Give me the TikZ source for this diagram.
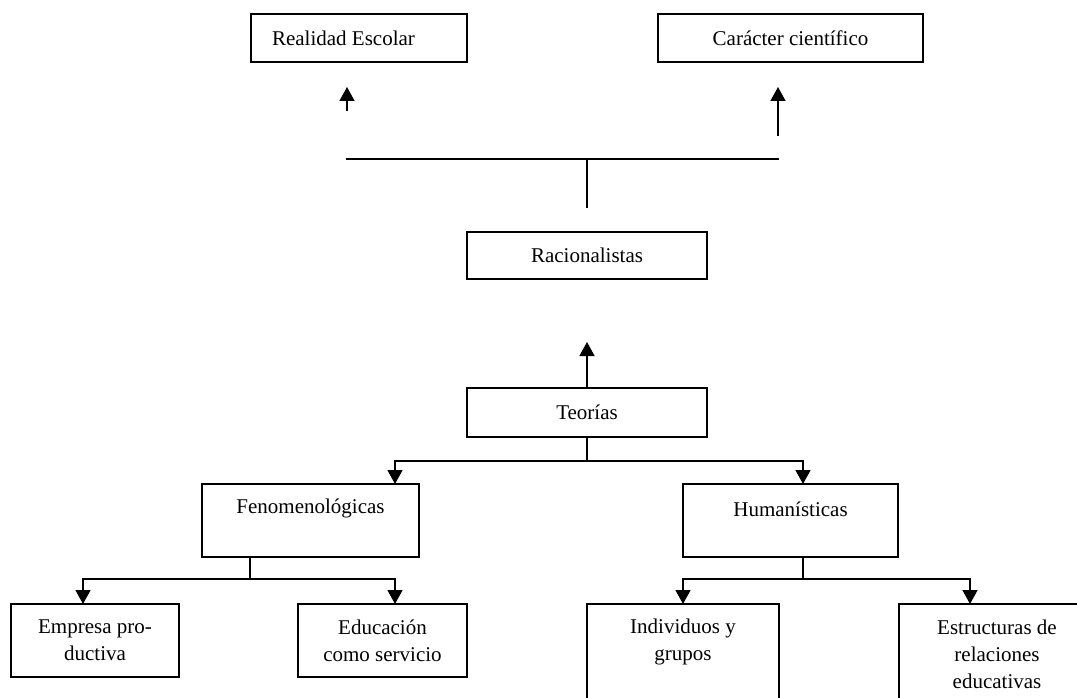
\documentclass[tikz,border=0pt]{standalone}
\usepackage{fontspec}
\setmainfont{Liberation Serif}
\usetikzlibrary{arrows.meta}
\begin{document}
\begin{tikzpicture}[x=1pt,y=-1pt,line width=1.5pt,
  box/.style={draw,rectangle,inner sep=0pt,outer sep=0pt,align=center,
    font=\fontsize{21}{27}\selectfont},
  txt/.style={inner sep=0pt,align=center,font=\fontsize{21}{27}\selectfont},
  arr/.style={-{Triangle[length=14pt,width=15pt]}}]
\clip (0,0) rectangle (1077,698);

% upper level
\node[box,minimum width=216,minimum height=48] (real) at (359,38) {};
\node[txt] (realt) at (343.5,38) {Realidad Escolar};
\node[box,minimum width=265,minimum height=48] (carac) at (790.5,38) {Carácter científico};

\node[box,minimum width=240,minimum height=47] (rac) at (587,255.5) {Racionalistas};
\node[box,minimum width=240,minimum height=49] (teo) at (587,412.5) {Teorías};

% second level
\node[box,minimum width=217,minimum height=73] (fen) at (310.5,520.5) {};
\node[txt] (fent) at (310.5,508) {Fenomenológicas};
\node[box,minimum width=215,minimum height=73] (hum) at (790.5,520.5) {};
\node[txt] (humt) at (790.5,509) {Humanísticas};

% third level
\node[box,minimum width=168,minimum height=73] (emp) at (95,640.5) {Empresa pro-\\ductiva};
\node[box,minimum width=169,minimum height=73] (edu) at (382.5,640.5) {Educación\\como servicio};
\node[box,minimum width=192,minimum height=116] (ind) at (683,662) {};
\node[txt] (indt) at (683,641.5) {Individuos y\\grupos};
\node[box,minimum width=196,minimum height=116] (est) at (997,662) {};
\node[txt] (estt) at (997,654) {Estructuras de\\relaciones\\educativas};

% branching line below the top boxes
\coordinate (rj) at (587,208);
\coordinate (rh) at (587,159);
\coordinate (hl) at (346,159);
\coordinate (hr) at (779,159);
\draw (rj) -- (rh);
\draw (hl) -- (hr);
\coordinate (al) at (347,111);
\coordinate (ar) at (778,136);
\draw[arr] (al) -- ([xshift=-12]real.south |- 0,87);
\draw[arr] (ar) -- (778,87);

% Teorías upwards
\coordinate (tu) at (587,342);
\draw[arr] (teo.north) -- (tu);

% Teorías to second level
\coordinate (tj) at (587,461);
\draw (teo.south) -- (tj);
\draw[arr] (tj) -| ([xshift=84.5]fen.north);
\draw[arr] (tj) -| ([xshift=12.5]hum.north);

% Fenomenológicas to third level
\coordinate (fj) at (250,579);
\draw ([xshift=-60.5]fen.south) -- (fj);
\draw[arr] (fj) -| ([xshift=-12]emp.north);
\draw[arr] (fj) -| ([xshift=12.5]edu.north);

% Humanísticas to third level
\coordinate (hj) at (803,579);
\draw ([xshift=12.5]hum.south) -- (hj);
\draw[arr] (hj) -| (ind.north);
\draw[arr] (hj) -| ([xshift=-27]est.north);
\end{tikzpicture}
\end{document}
